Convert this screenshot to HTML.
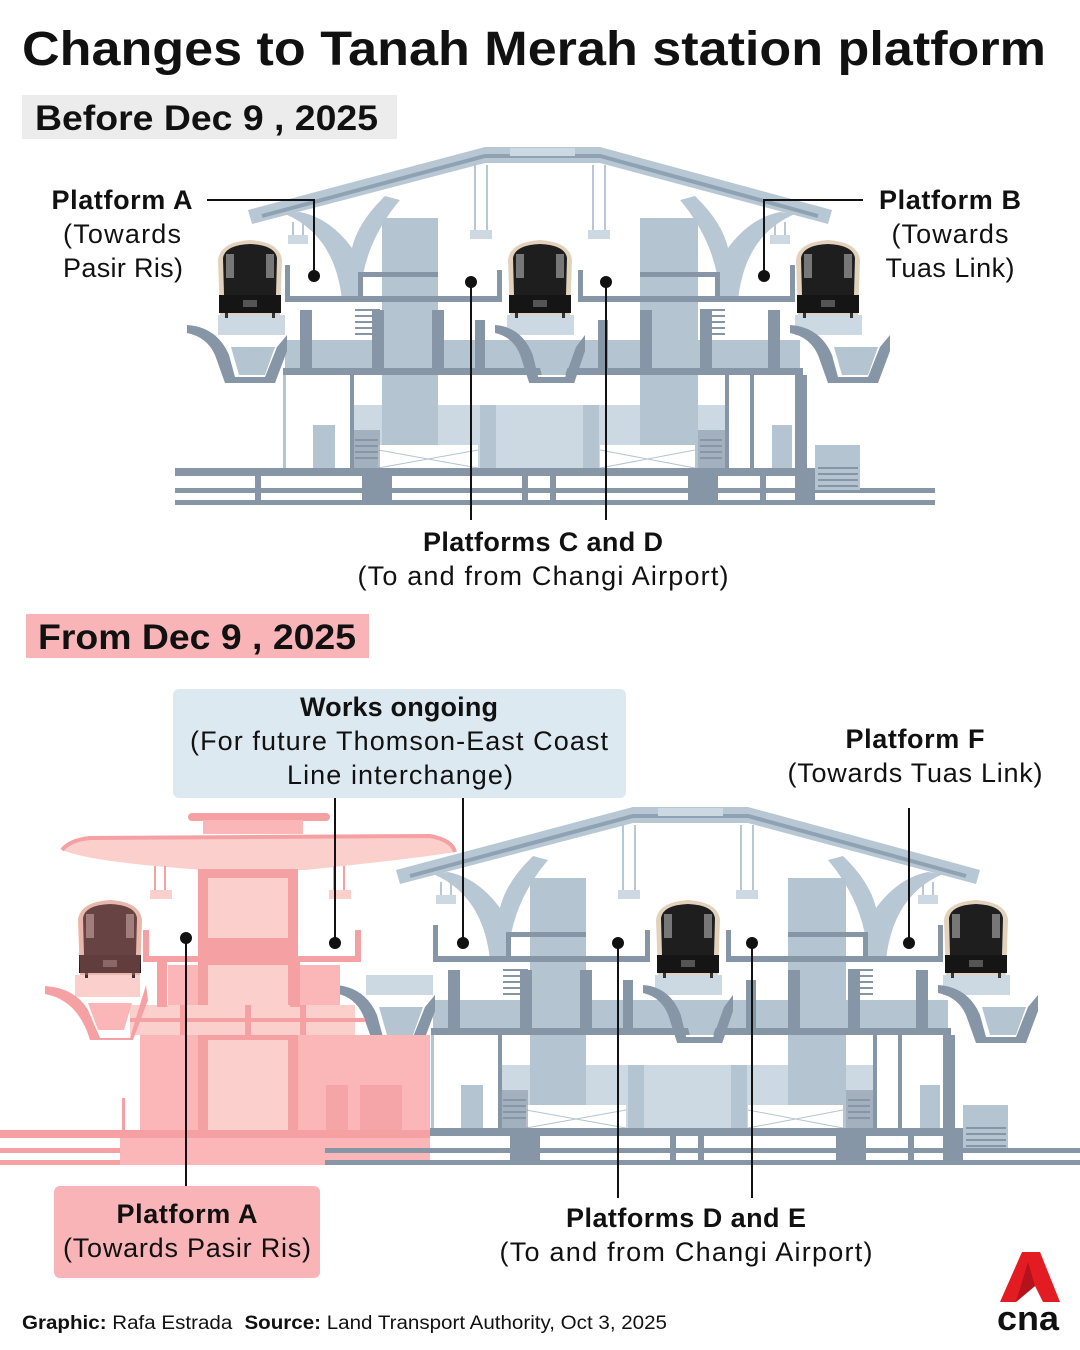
<!DOCTYPE html>
<html><head><meta charset="utf-8"><style>
html,body{margin:0;padding:0;background:#fff}
svg{display:block}
text{font-family:"Liberation Sans",sans-serif;fill:#111}
</style></head><body>
<svg width="1080" height="1350" viewBox="0 0 1080 1350" xmlns="http://www.w3.org/2000/svg">
<defs>
<g id="train">
  <path d="M-30 75 L-32 20 Q-30 2 0 0 Q30 2 32 20 L30 75 Z" fill="#e2d2bc"/>
  <path d="M-26 55 L-27 18 Q-25 5 0 4 Q25 5 27 18 L26 55 Z" fill="#1e1e1e"/>
  <rect x="-24" y="14" width="8" height="24" fill="#777"/>
  <rect x="16" y="14" width="8" height="24" fill="#777"/>
  <rect x="-31" y="55" width="62" height="18" fill="#151515"/>
  <rect x="-7" y="60" width="14" height="7" fill="#555"/>
  <rect x="-25" y="73" width="3" height="5" fill="#333"/><rect x="22" y="73" width="3" height="5" fill="#333"/>
</g>
<g id="pier">
  <path d="M0 0 Q30 2 42 30 L48 52 L78 52 L90 22 L100 10 L100 26 L88 58 L38 58 L28 30 Q20 12 0 8 Z" fill="#8796a6"/>
  <path d="M44 22 L88 22 L78 50 L52 50 Z" fill="#b4c4d1"/>
</g>
<g id="st">
  <!-- roof -->
  <path d="M248 210 L485 147 L600 147 L832 210 L828 224 L600 163 L485 163 L252 224 Z" fill="#b7c7d4"/>
  <path d="M262 216 L485 156 L600 156 L818 216" fill="none" stroke="#8fa2b3" stroke-width="4"/>
  <rect x="510" y="148" width="65" height="8" fill="#ccd9e3"/>
  <!-- arches -->
  <path d="M285 214 Q335 235 342 300 L360 300 Q362 245 400 200 L385 196 Q358 222 352 248 Q330 218 300 212 Z" fill="#b7c7d4"/>
  <path d="M795 214 Q745 235 738 300 L720 300 Q718 245 680 200 L695 196 Q722 222 728 248 Q750 218 780 212 Z" fill="#b7c7d4"/>
  <!-- hangers -->
  <g fill="#ccd9e3"><rect x="288" y="235" width="20" height="9"/><rect x="470" y="230" width="22" height="9"/><rect x="588" y="230" width="22" height="9"/><rect x="770" y="235" width="20" height="9"/></g>
  <g stroke="#b7c7d4" stroke-width="2"><path d="M475 165 V230 M487 165 V230 M593 165 V230 M605 165 V230 M293 222 V235 M303 222 V235 M775 222 V235 M785 222 V235"/></g>
  <!-- towers -->
  <rect x="382" y="218" width="56" height="252" fill="#b4c4d1"/>
  <rect x="640" y="218" width="58" height="252" fill="#b4c4d1"/>
  <!-- lower concourse -->
  <rect x="352" y="405" width="375" height="65" fill="#ccd9e3"/>
  <rect x="382" y="405" width="56" height="65" fill="#b4c4d1"/>
  <rect x="640" y="405" width="58" height="65" fill="#b4c4d1"/>
  <rect x="480" y="405" width="16" height="65" fill="#b4c4d1"/><rect x="583" y="405" width="16" height="65" fill="#b4c4d1"/>
  <g fill="#fff"><rect x="378" y="445" width="100" height="24"/><rect x="600" y="445" width="95" height="24"/></g>
  <g stroke="#b4c4d1" stroke-width="1"><path d="M378 450 L478 468 M378 468 L478 450 M600 450 L695 468 M600 468 L695 450"/></g>
  <g fill="#8796a6"><rect x="352" y="430" width="28" height="40" opacity=".6"/><rect x="698" y="430" width="28" height="40" opacity=".6"/></g>
  <!-- platform frames -->
  <g fill="#8796a6">
    <rect x="285" y="296" width="215" height="6"/><rect x="580" y="296" width="215" height="6"/>
    <rect x="285" y="265" width="5" height="35"/><rect x="790" y="265" width="5" height="35"/>
    <rect x="497" y="270" width="5" height="32"/><rect x="578" y="270" width="5" height="32"/>
    <rect x="358" y="272" width="80" height="5"/><rect x="640" y="272" width="80" height="5"/>
    <rect x="358" y="272" width="5" height="28"/><rect x="715" y="272" width="5" height="28"/>
    <rect x="285" y="340" width="515" height="35" fill="#b4c4d1"/>
    <rect x="283" y="368" width="520" height="7"/>
    <rect x="300" y="310" width="12" height="60"/><rect x="372" y="310" width="12" height="60"/>
    <rect x="432" y="310" width="12" height="60"/><rect x="475" y="320" width="10" height="50"/>
    <rect x="598" y="320" width="10" height="50"/><rect x="640" y="310" width="12" height="60"/>
    <rect x="700" y="310" width="12" height="60"/><rect x="768" y="310" width="12" height="60"/>
    <rect x="350" y="375" width="4" height="95"/><rect x="725" y="375" width="4" height="95"/>
    <rect x="750" y="375" width="4" height="95"/><rect x="795" y="375" width="12" height="100"/>
    <rect x="283" y="375" width="3" height="95" fill="#b4c4d1"/>
  </g>
  <g stroke="#8796a6" stroke-width="2"><path d="M355 310 H380 M355 316 H380 M355 322 H380 M355 328 H380 M355 334 H380 M700 310 H725 M700 316 H725 M700 322 H725 M700 328 H725 M700 334 H725 M355 440 H378 M355 446 H378 M355 452 H378 M355 458 H378 M700 440 H722 M700 446 H722 M700 452 H722 M700 458 H722"/></g>
  <g fill="#b4c4d1"><rect x="313" y="425" width="22" height="43"/><rect x="772" y="425" width="20" height="43"/></g>
  <!-- train boxes -->
  <g fill="#ccd9e3"><rect x="218" y="315" width="67" height="20"/><rect x="507" y="315" width="67" height="20"/><rect x="795" y="315" width="67" height="20"/></g>
  <use href="#pier" x="187" y="325"/>
  <use href="#pier" transform="translate(495 325) scale(0.9 1)"/>
  <use href="#pier" x="790" y="325"/>
  <!-- ground -->
  <g fill="#8796a6">
    <rect x="175" y="468" width="685" height="8"/>
    <rect x="175" y="488" width="760" height="5"/><rect x="175" y="500" width="760" height="5"/>
    <rect x="362" y="470" width="30" height="35"/><rect x="688" y="470" width="30" height="35"/>
    <rect x="255" y="476" width="6" height="25"/><rect x="522" y="476" width="6" height="25"/><rect x="550" y="476" width="6" height="25"/><rect x="760" y="476" width="6" height="25"/><rect x="795" y="470" width="20" height="35"/>
  </g>
  <rect x="815" y="445" width="45" height="45" fill="#b4c4d1"/>
  <g stroke="#8796a6" stroke-width="2"><path d="M818 468 H858 M818 474 H858 M818 480 H858 M818 486 H858"/></g>
</g>
</defs>

<text x="22" y="65" font-size="48" font-weight="bold" textLength="1024" lengthAdjust="spacingAndGlyphs">Changes to Tanah Merah station platform</text>

<rect x="22" y="95" width="375" height="44" fill="#ececec"/>
<text x="35" y="130" font-size="35" font-weight="bold" textLength="343" lengthAdjust="spacingAndGlyphs">Before Dec 9 , 2025</text>

<use href="#st"/>
<use href="#train" x="250" y="240"/>
<use href="#train" x="540" y="240"/>
<use href="#train" x="828" y="240"/>

<g stroke="#111" stroke-width="2" fill="none">
  <path d="M207 200 H314 V276"/><path d="M863 200 H764 V276"/>
  <path d="M471 282 V520"/><path d="M606 282 V520"/>
</g>
<g fill="#111"><circle cx="314" cy="276" r="6"/><circle cx="764" cy="276" r="6"/><circle cx="471" cy="282" r="6"/><circle cx="606" cy="282" r="6"/></g>

<g font-size="27" text-anchor="middle" lengthAdjust="spacingAndGlyphs">
<text x="122" y="209" font-weight="bold" textLength="141">Platform A</text>
<text x="122" y="243" textLength="118">(Towards</text>
<text x="123" y="277" textLength="120">Pasir Ris)</text>
<text x="950" y="209" font-weight="bold" textLength="142">Platform B</text>
<text x="950" y="243" textLength="117">(Towards</text>
<text x="950" y="277" textLength="129">Tuas Link)</text>
<text x="543" y="551" font-weight="bold" textLength="240">Platforms C and D</text>
<text x="543" y="585" textLength="371">(To and from Changi Airport)</text>
</g>

<rect x="26" y="614" width="343" height="44" fill="#f9b4b7"/>
<text x="38" y="649" font-size="35" font-weight="bold" textLength="318" lengthAdjust="spacingAndGlyphs">From Dec 9 , 2025</text>

<!-- bottom blue station -->
<g transform="translate(148 660)"><use href="#st"/></g>
<use href="#train" x="688" y="900"/>
<use href="#train" x="976" y="900"/>
<g fill="#8796a6"><rect x="935" y="1148" width="145" height="5"/><rect x="935" y="1160" width="145" height="5"/></g>

<!-- pink station -->
<g>
  <rect x="188" y="813" width="142" height="8" rx="4" fill="#f5a0a3"/>
  <rect x="203" y="820" width="100" height="14" fill="#fbb6b8"/>
  <path d="M62 850 Q70 840 90 838 L430 836 Q452 840 455 852 Q420 858 305 870 L205 870 Q90 862 62 850 Z" fill="#fbcfcb"/>
  <path d="M62 850 Q70 840 90 838 L430 836 Q452 840 455 852" fill="none" stroke="#f5a0a3" stroke-width="4"/>
  <g stroke="#f5a0a3" stroke-width="2"><path d="M155 866 V890 M165 866 V890 M334 866 V890 M344 866 V890"/></g>
  <g fill="#fbcfcb"><rect x="150" y="890" width="22" height="9"/><rect x="329" y="890" width="22" height="9"/></g>
  <rect x="140" y="1035" width="290" height="100" fill="#fbb6b8"/>
  <rect x="198" y="869" width="100" height="270" fill="#f5a0a3"/>
  <rect x="208" y="878" width="80" height="60" fill="#fbcfcb"/>
  <rect x="208" y="965" width="80" height="40" fill="#fbcfcb"/>
  <rect x="208" y="1040" width="80" height="90" fill="#fbcfcb"/>
  <rect x="130" y="1005" width="225" height="30" fill="#fbcfcb"/>
  <g fill="#f5a0a3"><rect x="130" y="1018" width="235" height="4"/><rect x="180" y="1005" width="6" height="30"/><rect x="245" y="1005" width="6" height="30"/><rect x="300" y="1005" width="6" height="30"/></g>
  <g fill="#f5a0a3">
    <rect x="143" y="930" width="6" height="30"/><rect x="143" y="956" width="65" height="6"/>
    <rect x="355" y="930" width="6" height="30"/><rect x="298" y="956" width="63" height="6"/>
    <rect x="157" y="962" width="10" height="45"/><rect x="290" y="962" width="10" height="45"/>
  </g>
  <rect x="168" y="965" width="30" height="40" fill="#fbb6b8"/><rect x="300" y="965" width="40" height="40" fill="#fbb6b8"/>
  <rect x="326" y="1085" width="22" height="45" fill="#f5a5a8"/><rect x="360" y="1085" width="42" height="45" fill="#f5a5a8"/>
  <rect x="75" y="975" width="65" height="22" fill="#fbcfcb"/>
  <path d="M45 986 Q75 988 88 1010 L100 1038 L130 1038 L146 985 L148 1000 L133 1040 L90 1040 Q78 1000 45 994 Z" fill="#f5a0a3"/>
  <path d="M88 1003 L132 1003 L124 1030 L98 1030 Z" fill="#fbb6b8"/>
  <rect x="0" y="1130" width="430" height="8" fill="#f5a0a3"/>
  <rect x="0" y="1148" width="430" height="5" fill="#f5a0a3"/><rect x="0" y="1160" width="430" height="5" fill="#f5a0a3"/>
  <rect x="120" y="1138" width="310" height="27" fill="#fbb6b8"/>
  <rect x="122" y="1098" width="3" height="40" fill="#f5a0a3"/>
  <g transform="translate(110 900)">
    <use href="#train"/>
    <path d="M-32 20 Q-30 2 0 0 Q30 2 32 20 L30 75 L-30 75 Z" fill="#f08a8d" opacity=".35"/>
  </g>
</g>
<g fill="#8796a6"><rect x="325" y="1148" width="110" height="5"/><rect x="325" y="1160" width="110" height="5"/></g>

<!-- boxes -->
<rect x="173" y="689" width="453" height="109" rx="6" fill="#dde9f0"/>
<rect x="54" y="1186" width="266" height="92" rx="6" fill="#f9b4b7"/>

<g stroke="#111" stroke-width="2" fill="none">
  <path d="M186 938 V1186"/><path d="M335 798 V943"/><path d="M463 798 V943"/>
  <path d="M618 943 V1198"/><path d="M752 943 V1198"/><path d="M909 808 V943"/>
</g>
<g fill="#111"><circle cx="186" cy="938" r="6"/><circle cx="335" cy="943" r="6"/><circle cx="463" cy="943" r="6"/><circle cx="618" cy="943" r="6"/><circle cx="752" cy="943" r="6"/><circle cx="909" cy="943" r="6"/></g>

<g font-size="27" text-anchor="middle" lengthAdjust="spacingAndGlyphs">
<text x="399" y="716" font-weight="bold" textLength="198">Works ongoing</text>
<text x="399" y="750" textLength="418">(For future Thomson-East Coast</text>
<text x="400" y="784" textLength="226">Line interchange)</text>
<text x="915" y="748" font-weight="bold" textLength="139">Platform F</text>
<text x="915" y="782" textLength="255">(Towards Tuas Link)</text>
<text x="187" y="1223" font-weight="bold" textLength="141">Platform A</text>
<text x="187" y="1257" textLength="248">(Towards Pasir Ris)</text>
<text x="686" y="1227" font-weight="bold" textLength="240">Platforms D and E</text>
<text x="686" y="1261" textLength="373">(To and from Changi Airport)</text>
</g>

<text x="22" y="1329" font-size="19" textLength="645" lengthAdjust="spacingAndGlyphs"><tspan font-weight="bold">Graphic:</tspan> Rafa Estrada  <tspan font-weight="bold" dx="6">Source:</tspan> Land Transport Authority, Oct 3, 2025</text>

<!-- cna logo -->
<path d="M1022 1252 L1040 1252 L1060 1302 L1043 1302 L1035 1286 L1016 1302 L1000 1302 Z" fill="#e31b23"/>
<path d="M1028 1262 L1035 1286 L1016 1302 Z" fill="#b5121b"/>
<text x="1028" y="1330" font-size="34" font-weight="bold" text-anchor="middle" fill="#333" textLength="62" lengthAdjust="spacingAndGlyphs">cna</text>
</svg>
</body></html>
